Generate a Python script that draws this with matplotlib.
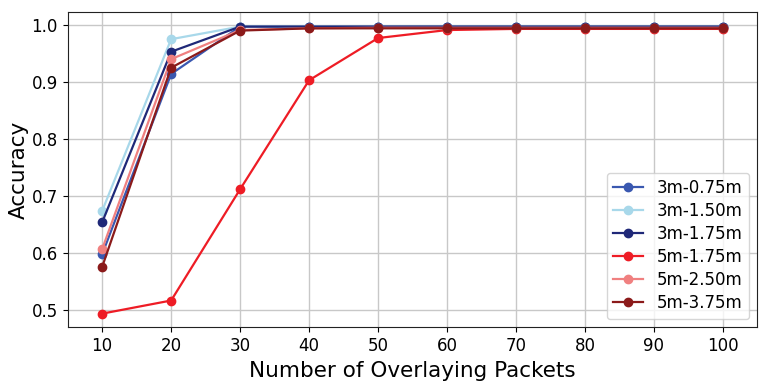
import matplotlib
matplotlib.use("Agg")
import matplotlib.pyplot as plt

packets = [10, 20, 30, 40, 50, 60, 70, 80, 90, 100]

acc_3m_075 = [0.598, 0.914, 0.997, 0.997, 0.997, 0.997, 0.997, 0.997, 0.997, 0.997]
acc_3m_150 = [0.674, 0.975, 0.997, 0.997, 0.997, 0.997, 0.997, 0.997, 0.997, 0.997]
acc_3m_175 = [0.654, 0.953, 0.997, 0.997, 0.997, 0.997, 0.997, 0.997, 0.997, 0.997]
acc_5m_175 = [0.494, 0.517, 0.712, 0.903, 0.977, 0.991, 0.993, 0.993, 0.993, 0.993]
acc_5m_250 = [0.607, 0.940, 0.991, 0.994, 0.995, 0.995, 0.995, 0.995, 0.995, 0.995]
acc_5m_375 = [0.576, 0.925, 0.990, 0.994, 0.994, 0.994, 0.994, 0.994, 0.994, 0.994]

labels = ["3m-0.75m", "3m-1.50m", "3m-1.75m", "5m-1.75m", "5m-2.50m", "5m-3.75m"]
series = [acc_3m_075, acc_3m_150, acc_3m_175, acc_5m_175, acc_5m_250, acc_5m_375]
colors = ["#3a58b0", "#a8d8ea", "#1f2878", "#ee1c25", "#f08080", "#8b1a1a"]

fig, ax = plt.subplots(figsize=(7.69, 3.86), dpi=100)

for vals, lab, col in zip(series, labels, colors):
    ax.plot(packets, vals, marker="o", markersize=6, linewidth=1.6, color=col, label=lab)

ax.set_xticks(packets)
ax.set_yticks([0.5, 0.6, 0.7, 0.8, 0.9, 1.0])
ax.set_ylim(0.47, 1.022)
ax.set_xlim(5, 105)
ax.grid(True, color="#c8c8c8", linewidth=1)
ax.set_axisbelow(True)
ax.tick_params(labelsize=12)
ax.set_xlabel("Number of Overlaying Packets", fontsize=15.5)
ax.set_ylabel("Accuracy", fontsize=15.5, labelpad=2)
for s in ax.spines.values():
    s.set_color("#222222")
ax.legend(loc="lower right", fontsize=12, labelspacing=0.3, handlelength=1.8)

plt.subplots_adjust(left=0.088, right=0.985, top=0.968, bottom=0.152)
plt.savefig("out.png", dpi=100)
